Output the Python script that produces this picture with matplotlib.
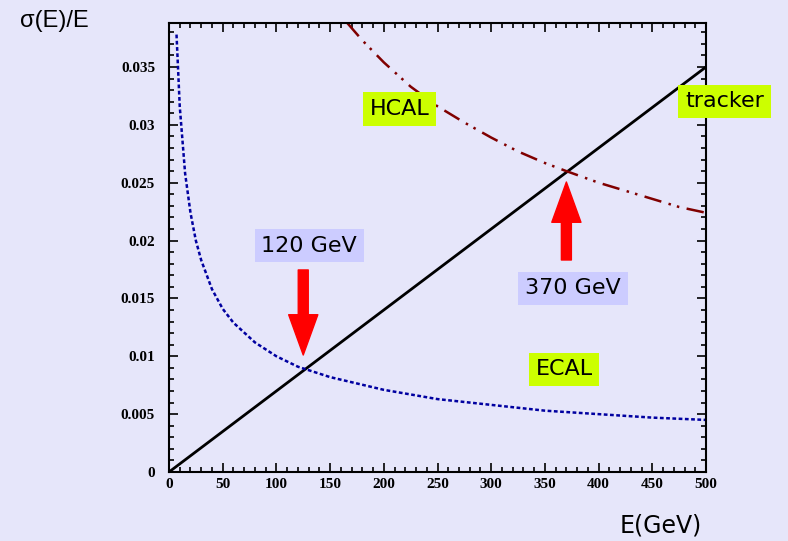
import matplotlib
matplotlib.use("Agg")
import matplotlib.pyplot as plt
from matplotlib.ticker import MultipleLocator, FuncFormatter

# resolution curves sigma(E)/E
tracker_E = [0, 500]
tracker_res = [0.0, 0.035]

ecal_E = [7, 10, 15, 20, 25, 30, 40, 50, 60, 80, 100, 120, 150, 200, 250, 300, 350, 400, 450, 500]
ecal_res = [0.0378, 0.0316, 0.0258, 0.0224, 0.0200, 0.0183, 0.0158, 0.0141, 0.0129, 0.0112,
            0.0100, 0.0091, 0.0082, 0.0071, 0.0063, 0.0058, 0.0053, 0.0050, 0.0047, 0.0045]

hcal_E = [166, 180, 200, 225, 250, 275, 300, 325, 350, 370, 400, 425, 450, 475, 500]
hcal_res = [0.0388, 0.0373, 0.0354, 0.0333, 0.0316, 0.0302, 0.0289, 0.0277, 0.0267,
            0.0260, 0.0250, 0.0243, 0.0236, 0.0229, 0.0224]

# crossing markers: (label, energy, arrow tail y, arrow tip y, label x, label y)
crossings = [("120 GeV", 125, 0.01746, 0.01011, 130.4, 0.01957),
             ("370 GeV", 370, 0.01832, 0.02506, 376.2, 0.01586)]

bg = "#E6E6FA"
fig = plt.figure(figsize=(7.88, 5.41), dpi=100, facecolor=bg)
ax = fig.add_axes([169/788, 69/541, 537/788, 449/541], facecolor=bg)

ax.plot(tracker_E, tracker_res, color="black", lw=2)
ax.plot(ecal_E, ecal_res, color="#0000A0", lw=1.8, linestyle=(0, (1.5, 1.0)))
ax.plot(hcal_E, hcal_res, color="#800000", lw=1.8, linestyle=(0, (7, 3, 1, 2.5, 1, 3)))

ax.set_xlim(0, 500)
ax.set_ylim(0, 0.0388)

ax.xaxis.set_major_locator(MultipleLocator(50))
ax.xaxis.set_minor_locator(MultipleLocator(10))
ax.yaxis.set_major_locator(MultipleLocator(0.005))
ax.yaxis.set_minor_locator(MultipleLocator(0.001))
ax.yaxis.set_major_formatter(FuncFormatter(lambda v, p: "0" if abs(v) < 1e-9 else f"{v:g}"))
ax.tick_params(which="both", direction="in", top=True, right=True, width=1.2)
ax.tick_params(which="major", length=6.5)
ax.tick_params(which="minor", length=3.5)
ax.tick_params(axis="y", pad=10)
ax.tick_params(axis="x", pad=4)
for sp in ax.spines.values():
    sp.set_linewidth(1.5)

for lab in ax.get_xticklabels() + ax.get_yticklabels():
    lab.set_fontfamily("Liberation Serif")
    lab.set_fontweight("bold")
    lab.set_fontsize(11)

label_font = dict(fontsize=16, family="DejaVu Sans", ha="center", va="center")
ax.text(214.6, 0.03137, "HCAL", bbox=dict(boxstyle="square,pad=0.3", fc="#CCFF00", ec="none"), **label_font)
ax.text(367.8, 0.00886, "ECAL", bbox=dict(boxstyle="square,pad=0.3", fc="#CCFF00", ec="none"), **label_font)
ax.text(517.2, 0.03202, "tracker", clip_on=False,
        bbox=dict(boxstyle="square,pad=0.3", fc="#CCFF00", ec="none"), **label_font)

for text, e, y0, y1, tx, ty in crossings:
    ax.annotate("", xy=(e, y1), xytext=(e, y0),
                arrowprops=dict(arrowstyle="simple,head_length=2.9,head_width=2.1,tail_width=0.72",
                                mutation_scale=10, color="red", shrinkA=0, shrinkB=0))
    ax.text(tx, ty, text, bbox=dict(boxstyle="square,pad=0.3", fc="#CCCCFF", ec="none"), **label_font)

fig.text(20/788, 1 - 21/541, "σ(E)/E", fontsize=17, family="Liberation Sans", ha="left", va="center")
fig.text(661/788, 1 - 525/541, "E(GeV)", fontsize=17, family="DejaVu Sans", ha="center", va="center")

fig.savefig("out.png", dpi=100, facecolor=bg)
